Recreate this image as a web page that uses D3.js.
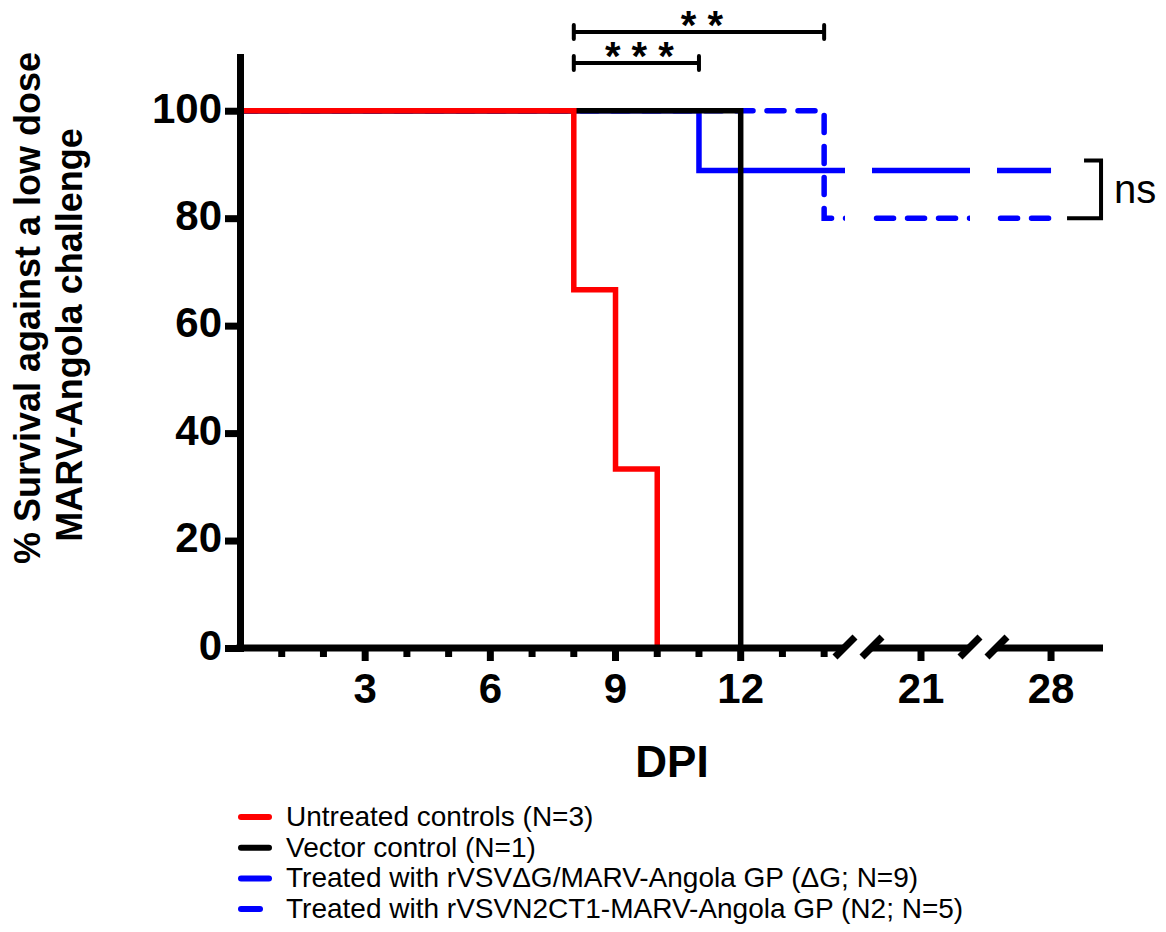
<!DOCTYPE html>
<html>
<head>
<meta charset="utf-8">
<script src="https://cdn.jsdelivr.net/npm/d3@7"></script>
<style>
  body { margin: 0; background: #fff; }
  svg { display: block; font-family: "Liberation Sans", Arial, sans-serif; }
</style>
</head>
<body>
<svg width="1166" height="932"></svg>
<script>
// Survival data (day of step, % surviving from that day on)
const untreatedDays = [0, 8, 9, 10];
const untreatedSurv = [100, 66.67, 33.33, 0];
const vectorDays = [0, 12];
const vectorSurv = [100, 0];
const deltaGDays = [0, 11, 28];
const deltaGSurv = [100, 88.89, 88.89];
const n2Days = [0, 14, 28];
const n2Surv = [100, 80, 80];

const seriesNames = [
    "Untreated controls (N=3)",
    "Vector control (N=1)",
    "Treated with rVSV\u0394G/MARV-Angola GP (\u0394G; N=9)",
    "Treated with rVSVN2CT1-MARV-Angola GP (N2; N=5)"
];

const yTicks = [0, 20, 40, 60, 80, 100];
const xMinorTicks = [1, 2, 3, 4, 5, 6, 7, 8, 9, 10, 11, 12, 13, 14, 21, 28];
const xTickLabels = [3, 6, 9, 12, 21, 28];

// significance comparisons (day range + stars)
const sigFrom = [8, 8];
const sigTo = [14, 11];
const sigLabels = ["* *", "* * *"];

const svg = d3.select("svg");

// broken x axis: three pieces
const xSegments = [[0, 14.5], [19.8, 22.2], [26.7, 29.25]];
const x = d3.scaleLinear()
    .domain([0, 14.5, 19.8, 22.2, 26.7, 29.25])
    .range([240, 845, 872, 970, 997, 1103]);
const y = d3.scaleLinear().domain([0, 110]).range([648, 57]);

// clip the lines to the axis pieces so the breaks show as gaps
const clip = svg.append("defs").append("clipPath").attr("id", "segs");
xSegments.forEach((s, i) => {
    clip.append("rect")
        .attr("x", i === 0 ? 0 : x(s[0]))
        .attr("y", 0)
        .attr("width", x(s[1]) - (i === 0 ? 0 : x(s[0])))
        .attr("height", 700);
});

const series = [
    { days: n2Days, surv: n2Surv, color: "#0000ff", dash: "17,14" },
    { days: deltaGDays, surv: deltaGSurv, color: "#0000ff", dash: null },
    { days: vectorDays, surv: vectorSurv, color: "#000", dash: null },
    { days: untreatedDays, surv: untreatedSurv, color: "#ff0000", dash: null }
];

const line = d3.line()
    .x(d => x(d[0]))
    .y(d => y(d[1]))
    .curve(d3.curveStepAfter);

const plot = svg.append("g").attr("clip-path", "url(#segs)");
series.forEach(s => {
    plot.append("path")
        .datum(d3.zip(s.days, s.surv))
        .attr("d", line)
        .attr("fill", "none")
        .attr("stroke", s.color)
        .attr("stroke-width", 5.5)
        .attr("stroke-linecap", s.dash ? "round" : "butt")
        .attr("stroke-dasharray", s.dash);
});

// y axis
const yAxis = svg.append("g")
    .attr("transform", `translate(${x(0)},0)`)
    .call(d3.axisLeft(y).tickValues(yTicks).tickSize(15).tickSizeOuter(0).tickPadding(3));
yAxis.select(".domain").attr("stroke-width", 7).attr("stroke-linecap", "square");
yAxis.selectAll(".tick line").attr("stroke-width", 7);
yAxis.selectAll(".tick text")
    .attr("font-size", 42)
    .attr("font-weight", "bold")
    .attr("font-family", "Liberation Sans, Arial, sans-serif")
    .attr("dy", "0.27em");

// x axis pieces
const xAxis = svg.append("g");
xSegments.forEach((s, i) => {
    xAxis.append("line")
        .attr("x1", i === 0 ? x(0) - 3.5 : x(s[0]))
        .attr("x2", x(s[1]))
        .attr("y1", y(0)).attr("y2", y(0))
        .attr("stroke", "#000").attr("stroke-width", 7);
    // break slashes
    const ends = i === 0 ? [s[1]] : (i === xSegments.length - 1 ? [s[0]] : [s[0], s[1]]);
    ends.forEach(e => {
        const cx = x(e), cy = y(0) - 1;
        xAxis.append("line")
            .attr("x1", cx - 10).attr("y1", cy + 10)
            .attr("x2", cx + 10).attr("y2", cy - 10)
            .attr("stroke", "#000").attr("stroke-width", 7);
    });
});
xAxis.selectAll(".xtick")
    .data(xMinorTicks)
    .enter().append("line")
    .attr("x1", d => x(d)).attr("x2", d => x(d))
    .attr("y1", y(0))
    .attr("y2", d => y(0) + (xTickLabels.includes(d) ? 13 : 9))
    .attr("stroke", "#000").attr("stroke-width", 7);
xAxis.selectAll(".xlabel")
    .data(xTickLabels)
    .enter().append("text")
    .attr("x", d => x(d))
    .attr("y", y(0) + 55)
    .attr("text-anchor", "middle")
    .attr("font-size", 42)
    .attr("font-weight", "bold")
    .text(d => d);

// axis titles
svg.append("text")
    .attr("x", 672).attr("y", 777)
    .attr("text-anchor", "middle")
    .attr("font-size", 44).attr("font-weight", "bold")
    .text("DPI");

svg.append("text")
    .attr("transform", "translate(40,308) rotate(-90)")
    .attr("text-anchor", "middle")
    .attr("font-size", 36).attr("font-weight", "bold")
    .text("% Survival against a low dose");
svg.append("text")
    .attr("transform", "translate(82,335) rotate(-90)")
    .attr("text-anchor", "middle")
    .attr("font-size", 36).attr("font-weight", "bold")
    .text("MARV-Angola challenge");

// significance bars
const barY = [32, 63];
sigLabels.forEach((lab, i) => {
    const g = svg.append("g").attr("stroke", "#000").attr("stroke-width", 4);
    const x1 = x(sigFrom[i]), x2 = x(sigTo[i]);
    g.append("line").attr("x1", x1).attr("x2", x2).attr("y1", barY[i]).attr("y2", barY[i]);
    g.append("line").attr("x1", x1).attr("x2", x1).attr("y1", barY[i] - 7).attr("y2", barY[i] + 7).attr("stroke-linecap", "round");
    g.append("line").attr("x1", x2).attr("x2", x2).attr("y1", barY[i] - 7).attr("y2", barY[i] + 7).attr("stroke-linecap", "round");
    svg.append("text")
        .attr("x", (x1 + x2) / 2 + 3)
        .attr("y", barY[i] + 7)
        .attr("text-anchor", "middle")
        .attr("font-size", 40).attr("font-weight", "bold")
        .text(lab);
});

// ns bracket between the two treated groups
const bx = x(28) + 50;
const bTop = y(deltaGSurv[deltaGSurv.length - 1]) - 10;
const bBot = y(n2Surv[n2Surv.length - 1]);
svg.append("path")
    .attr("d", `M${bx - 17},${bTop}H${bx}V${bBot}H${bx - 34}`)
    .attr("fill", "none").attr("stroke", "#000").attr("stroke-width", 4);
svg.append("text")
    .attr("x", bx + 13).attr("y", (bTop + bBot) / 2 + 14)
    .attr("font-size", 40)
    .text("ns");

// legend
const legendColors = ["#ff0000", "#000", "#0000ff", "#0000ff"];
const legendLen = [28, 28, 28, 19];
const legend = svg.append("g").attr("transform", "translate(241,826)");
seriesNames.forEach((name, i) => {
    legend.append("line")
        .attr("x1", 0).attr("x2", legendLen[i])
        .attr("y1", i * 30.7 - 9).attr("y2", i * 30.7 - 9)
        .attr("stroke", legendColors[i]).attr("stroke-width", 6)
        .attr("stroke-linecap", "round");
    legend.append("text")
        .attr("x", 45).attr("y", i * 30.7)
        .attr("font-size", 28)
        .text(name);
});
</script>
</body>
</html>
